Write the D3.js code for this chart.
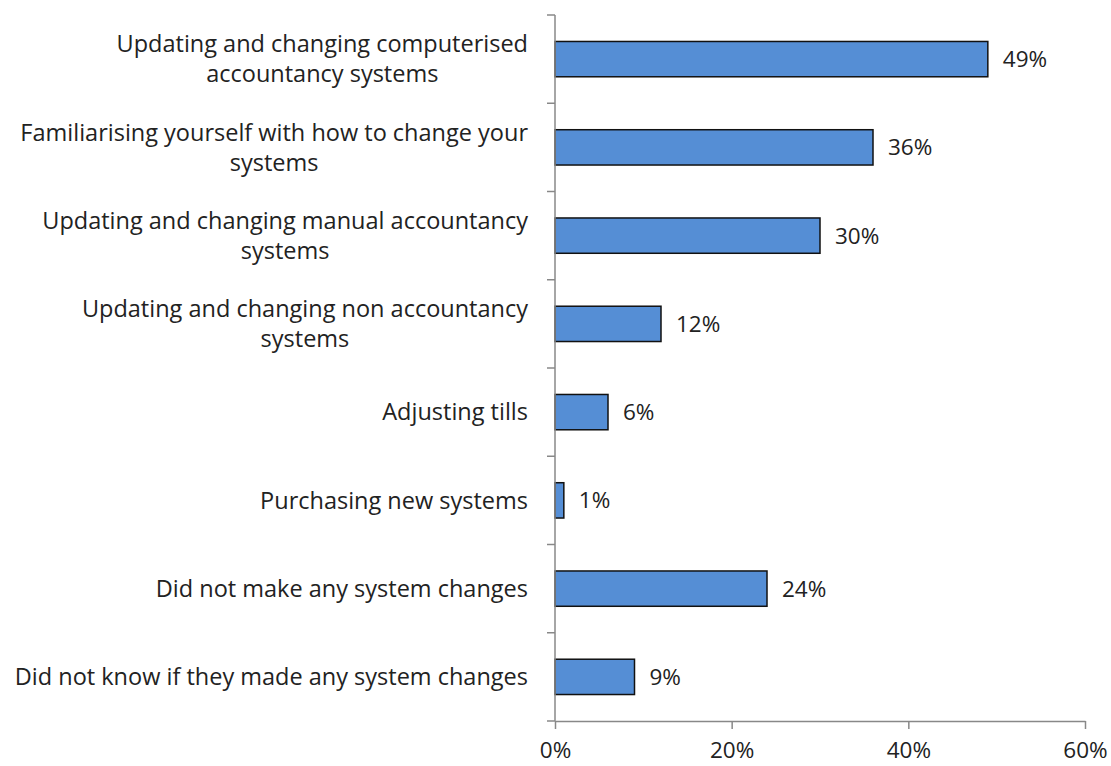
<!DOCTYPE html>
<html>
<head>
<meta charset="utf-8">
<script src="https://cdn.jsdelivr.net/npm/d3@7"></script>
<style>
  body { margin: 0; background: #fff; }
  svg { display: block; }
  text { font-family: "Open Sans", Lato, sans-serif; fill: #222; }
</style>
</head>
<body>
<div id="chart"></div>
<script>
// Categories (line breaks as in the original chart) and values in percent.
const categories = [
  "Updating and changing computerised\naccountancy systems",
  "Familiarising yourself with how to change your\nsystems",
  "Updating and changing manual accountancy\nsystems",
  "Updating and changing non accountancy\nsystems",
  "Adjusting tills",
  "Purchasing new systems",
  "Did not make any system changes",
  "Did not know if they made any system changes"
];
const values = [49, 36, 30, 12, 6, 1, 24, 9];
const xTicks = [0, 20, 40, 60];

const W = 1111, H = 766;
const margin = { top: 15, right: 26, bottom: 45, left: 555 };
const FONT = 23.5;
const VFONT = 22.5;

const svg = d3.select("#chart").append("svg").attr("width", W).attr("height", H);

const x = d3.scaleLinear().domain([0, 60]).range([margin.left, W - margin.right]);
const y = d3.scaleBand().domain(categories).range([margin.top, H - margin.bottom]).paddingInner(0.6).paddingOuter(0.3);

// bars
svg.append("g").selectAll("rect")
  .data(values)
  .enter().append("rect")
  .attr("x", x(0))
  .attr("y", (d, i) => y(categories[i]))
  .attr("width", d => x(d) - x(0))
  .attr("height", y.bandwidth())
  .attr("fill", "#558ed5")
  .attr("stroke", "#111")
  .attr("stroke-width", 1.5);

// value labels
svg.append("g").selectAll("text")
  .data(values)
  .enter().append("text")
  .attr("x", d => x(d) + 15)
  .attr("y", (d, i) => y(categories[i]) + y.bandwidth() / 2)
  .attr("dy", "0.35em")
  .attr("font-size", VFONT)
  .text(d => d + "%");

// y axis: line + ticks at band boundaries
const yAxis = svg.append("g").attr("stroke", "#888").attr("stroke-width", 1.5);
yAxis.append("line").attr("x1", x(0)).attr("x2", x(0)).attr("y1", margin.top).attr("y2", H - margin.bottom);
const step = y.step();
const bounds = d3.range(categories.length + 1).map(i => margin.top + i * step);
yAxis.selectAll("line.t").data(bounds).enter().append("line")
  .attr("class", "t")
  .attr("x1", x(0) - 8).attr("x2", x(0))
  .attr("y1", d => d).attr("y2", d => d);

// x axis
const xAxisG = svg.append("g").attr("transform", `translate(0,${H - margin.bottom})`)
  .call(d3.axisBottom(x).tickValues(xTicks).tickFormat(d => d + "%").tickSize(8).tickSizeOuter(0));
xAxisG.select(".domain").attr("stroke", "#888").attr("stroke-width", 1.5);
xAxisG.selectAll(".tick line").attr("stroke", "#888").attr("stroke-width", 1.5);
xAxisG.selectAll(".tick text").attr("font-size", VFONT).attr("font-family", "'Open Sans', sans-serif").attr("fill", "#222").attr("dy", "1.15em");

// category labels
const lab = svg.append("g").selectAll("text")
  .data(categories)
  .enter().append("text")
  .attr("text-anchor", "middle")
  .attr("font-size", FONT);
lab.each(function (d) {
  const lines = d.split("\n");
  const t = d3.select(this);
  const cy = y(d) + y.bandwidth() / 2;
  const lh = 30;
  lines.forEach((s, k) => {
    t.append("tspan")
      .attr("y", cy + (k - (lines.length - 1) / 2) * lh)
      .attr("dy", "0.35em")
      .text(s);
  });
});
// right-align the block of each label, centre its lines within the block
lab.each(function () {
  const t = d3.select(this);
  const spans = t.selectAll("tspan").nodes();
  const widest = d3.max(spans, n => n.getComputedTextLength());
  const cx = 528 - widest / 2;
  spans.forEach(n => d3.select(n).attr("x", cx));
});
</script>
</body>
</html>
